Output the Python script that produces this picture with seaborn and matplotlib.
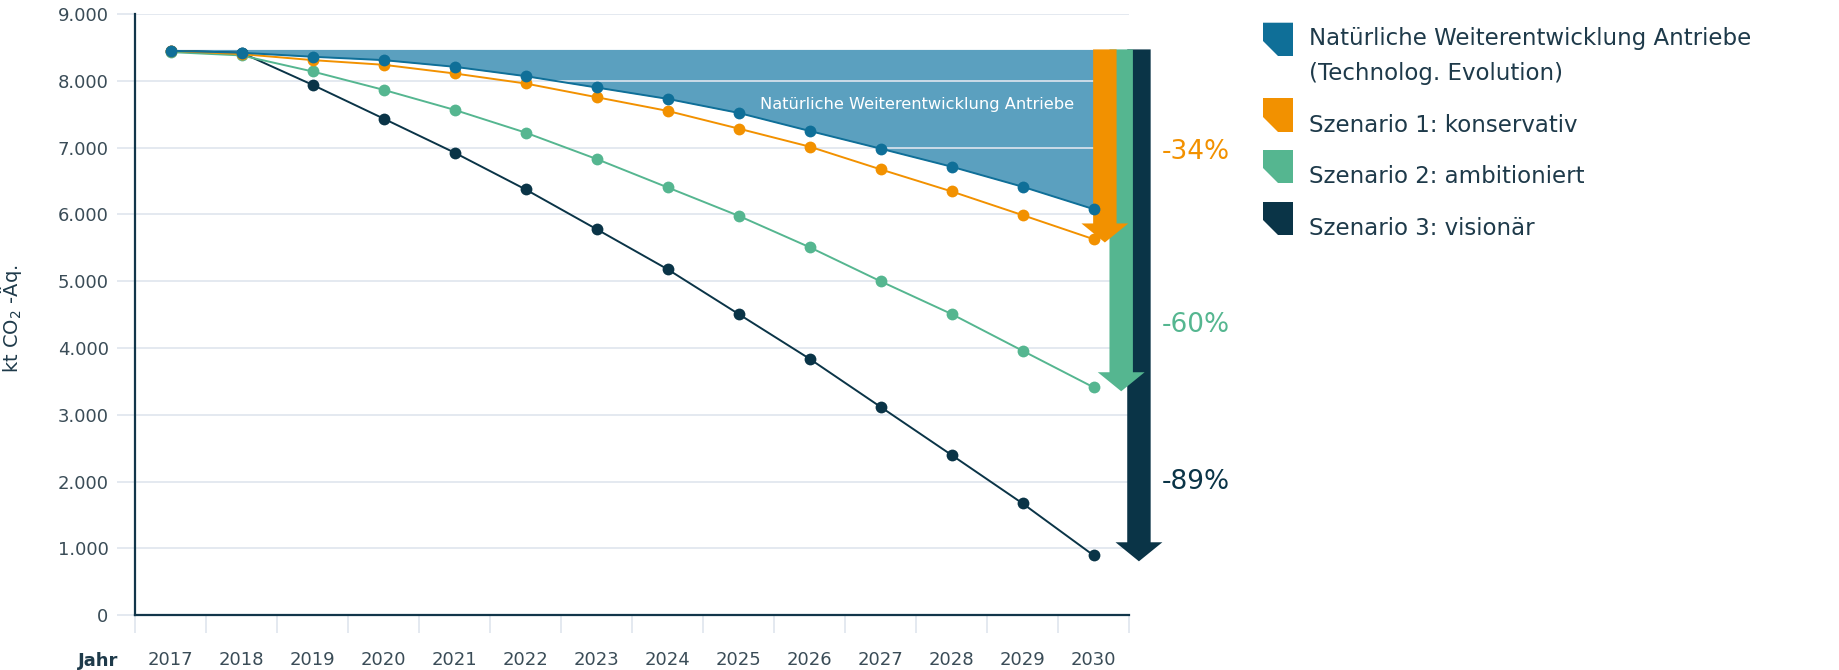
import numpy as np
import pandas as pd
import matplotlib.pyplot as plt
import seaborn as sb
from matplotlib.patches import FancyArrow, Polygon
from matplotlib.ticker import FuncFormatter, FixedLocator

# ---- data ------------------------------------------------------------------
years = [2017, 2018, 2019, 2020, 2021, 2022, 2023, 2024, 2025, 2026, 2027, 2028, 2029, 2030]
natural = [8450, 8420, 8360, 8310, 8210, 8070, 7900, 7730, 7520, 7250, 6985, 6715, 6415, 6080]
scen1 = [8450, 8400, 8310, 8240, 8110, 7960, 7755, 7550, 7285, 7015, 6675, 6345, 5990, 5630]
scen2 = [8430, 8380, 8140, 7865, 7565, 7225, 6830, 6405, 5980, 5510, 5000, 4510, 3960, 3413]
scen3 = [8450, 8420, 7940, 7435, 6925, 6375, 5780, 5180, 4510, 3840, 3120, 2400, 1675, 898]
base_level = 8470

series_names = ['Natürliche Weiterentwicklung Antriebe', 'Szenario 1: konservativ',
                'Szenario 2: ambitioniert', 'Szenario 3: visionär']
legend_lines = [['Natürliche Weiterentwicklung Antriebe', '(Technolog. Evolution)'],
                ['Szenario 1: konservativ'], ['Szenario 2: ambitioniert'], ['Szenario 3: visionär']]
reductions = ['-34%', '-60%', '-89%']
reduction_label_y = [6930, 4345, 1995]
area_label = 'Natürliche Weiterentwicklung Antriebe'

colors = ['#0f6f98', '#f29100', '#55b690', '#0a3447']
fill_color = '#5ba0bf'
grid_color = '#dfe5ee'
text_color = '#1e3a4a'
tick_color = '#3a4c57'

W, H = 1839, 670


def fig_xy(x, y):
    return x / W, 1 - y / H


if __name__ == '__main__':
    sb.set_style('white')
    plt.rcParams['font.family'] = ['DejaVu Sans']

    pos = np.arange(len(years))
    frames = []
    for name, vals in zip(series_names, [natural, scen1, scen2, scen3]):
        frames.append(pd.DataFrame({'pos': pos, 'value': vals, 'series': name}))
    data = pd.concat(frames, ignore_index=True)

    fig = plt.figure(figsize=(W / 100, H / 100), dpi=100)
    ax = fig.add_axes([135 / W, 54.7 / H, 994 / W, 601.3 / H])

    # area between flat start level and natural evolution
    ax.fill_between(pos, base_level, natural, color=fill_color, lw=0, zorder=0.3)

    # lines, drawn so that the natural line ends up on top
    sb.lineplot(data=data, x='pos', y='value', hue='series',
                hue_order=series_names[::-1], palette=dict(zip(series_names, colors)),
                marker='o', markersize=8.5, markeredgewidth=0, linewidth=1.4,
                errorbar=None, legend=False, zorder=3, ax=ax)

    # reduction arrows at the right edge (orange on top, dark at the back)
    arrow_x = [13.16, 13.39, 13.64]
    tips = [scen1[-1] - 50, scen2[-1] - 60, scen3[-1] - 90]
    for i in [2, 1, 0]:
        arr = FancyArrow(arrow_x[i], base_level, 0, tips[i] - base_level,
                         width=0.33, head_width=0.66, head_length=285,
                         length_includes_head=True, color=colors[i + 1], lw=0,
                         clip_on=False, zorder=2.3 - i * 0.1)
        ax.add_patch(arr)
        ax.text(13.96, reduction_label_y[i], reductions[i], color=colors[i + 1],
                fontsize=19, ha='left', va='center', clip_on=False)

    ax.text(10.51, 7640, area_label, color='white', fontsize=11.7, ha='center', va='center', zorder=4)

    # axes styling
    ax.set_xlim(-0.5, len(years) - 0.5)
    ax.set_ylim(0, 9000)
    ax.set_yticks(np.arange(0, 9001, 1000))
    ax.yaxis.set_major_formatter(FuncFormatter(lambda v, p: f'{v:,.0f}'.replace(',', '.')))
    ax.set_xticks(pos)
    ax.set_xticklabels([str(y) for y in years])
    ax.xaxis.set_minor_locator(FixedLocator(np.arange(-0.5, len(years), 1.0)))
    ax.set_axisbelow(True)
    ax.grid(axis='y', color=grid_color, linewidth=1.2)
    ax.grid(axis='x', visible=False)

    for side in ['top', 'right']:
        ax.spines[side].set_visible(False)
    for side in ['left', 'bottom']:
        ax.spines[side].set_color('#12364a')
        ax.spines[side].set_linewidth(1.6)
        ax.spines[side].set_zorder(5)

    ax.tick_params(axis='y', which='major', left=True, length=13, width=1.2, color=grid_color,
                   labelsize=13, labelcolor=tick_color, pad=6)
    ax.tick_params(axis='x', which='major', bottom=True, length=0, labelsize=13,
                   labelcolor=tick_color, pad=26)
    ax.tick_params(axis='x', which='minor', bottom=True, length=13, width=1.2, color=grid_color)

    ax.set_xlabel('')
    ax.set_ylabel('kt CO$_2$ -Äq.', fontsize=14, color=text_color)
    ax.yaxis.set_label_coords(-0.1117, 0.494)

    fig.text(*fig_xy(118, 666), 'Jahr', fontsize=13, fontweight='bold', color=text_color,
             ha='right', va='baseline')

    # legend with cut-corner swatches
    swatch_tops = [22.7, 98, 150, 202]
    swatch_bottoms = [56, 132, 183, 235]
    baselines = [[45, 80], [132], [183], [235]]
    x0, x1, cut = 1263, 1293, 15
    for i in range(4):
        t, b = swatch_tops[i], swatch_bottoms[i]
        pts = [fig_xy(x0, t), fig_xy(x1, t), fig_xy(x1, b), fig_xy(x0 + cut, b), fig_xy(x0, b - cut)]
        fig.patches.append(Polygon(pts, closed=True, transform=fig.transFigure,
                                   color=colors[i], lw=0, figure=fig))
        for line, yb in zip(legend_lines[i], baselines[i]):
            fig.text(*fig_xy(1309, yb), line, fontsize=16.5, color=text_color,
                     ha='left', va='baseline')

    fig.savefig('out.png', dpi=100)
